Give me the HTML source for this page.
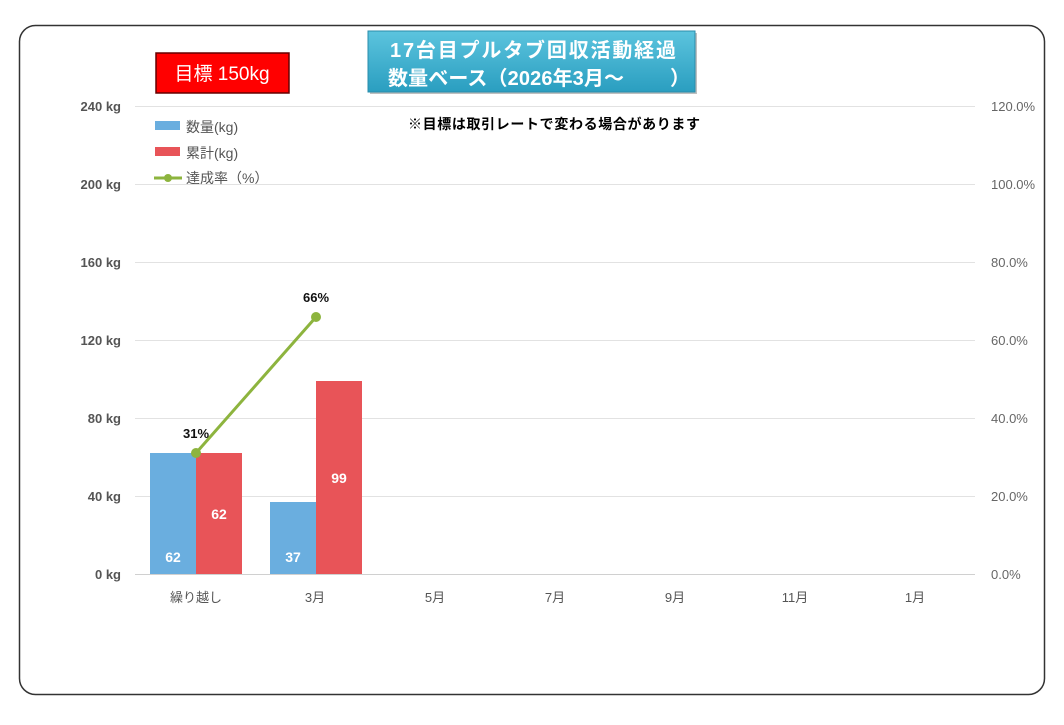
<!DOCTYPE html><html><head><meta charset="utf-8"><style>
body{margin:0;background:#fff;width:1064px;height:720px;overflow:hidden}
svg text{font-family:"Liberation Sans","Noto Sans CJK JP",sans-serif}
</style></head><body>
<svg width="1064" height="720" xmlns="http://www.w3.org/2000/svg">
<defs><linearGradient id="g" x1="0" y1="0" x2="0" y2="1"><stop offset="0" stop-color="#5cc4de"/><stop offset="1" stop-color="#2a9ec0"/></linearGradient></defs>
<rect x="19.5" y="25.5" width="1025" height="669" rx="16" fill="#fff" stroke="#333" stroke-width="1.5"/>
<g stroke="#e2e2e2" stroke-width="1">
<line x1="135" y1="106.5" x2="975" y2="106.5"/><line x1="135" y1="184.5" x2="975" y2="184.5"/><line x1="135" y1="262.5" x2="975" y2="262.5"/><line x1="135" y1="340.5" x2="975" y2="340.5"/><line x1="135" y1="418.5" x2="975" y2="418.5"/><line x1="135" y1="496.5" x2="975" y2="496.5"/><line x1="135" y1="574.5" x2="975" y2="574.5" stroke="#d0d0d0"/>
</g>
<g font-size="13" font-weight="bold" fill="#555" text-anchor="end">
<text x="121" y="111">240 kg</text><text x="121" y="189">200 kg</text><text x="121" y="267">160 kg</text><text x="121" y="345">120 kg</text><text x="121" y="423">80 kg</text><text x="121" y="501">40 kg</text><text x="121" y="579">0 kg</text>
</g>
<g font-size="13" fill="#666">
<text x="991" y="111">120.0%</text><text x="991" y="189">100.0%</text><text x="991" y="267">80.0%</text><text x="991" y="345">60.0%</text><text x="991" y="423">40.0%</text><text x="991" y="501">20.0%</text><text x="991" y="579">0.0%</text>
</g>
<g font-size="13" fill="#555" text-anchor="middle">
<text x="196" y="602">繰り越し</text><text x="315" y="602">3月</text><text x="435" y="602">5月</text><text x="555" y="602">7月</text><text x="675" y="602">9月</text><text x="795" y="602">11月</text><text x="915" y="602">1月</text>
</g>
<rect x="150" y="453" width="46" height="121" fill="#6aaedf"/>
<rect x="196" y="453" width="46" height="121" fill="#e85458"/>
<rect x="270" y="502" width="46" height="72" fill="#6aaedf"/>
<rect x="316" y="381" width="46" height="193" fill="#e85458"/>
<g font-size="14" font-weight="bold" fill="#fff" text-anchor="middle">
<text x="173" y="562">62</text><text x="219" y="519">62</text><text x="293" y="562">37</text><text x="339" y="483">99</text>
</g>
<line x1="196" y1="453" x2="316" y2="317" stroke="#8db43e" stroke-width="3"/>
<circle cx="196" cy="453" r="5" fill="#8db43e"/><circle cx="316" cy="317" r="5" fill="#8db43e"/>
<g font-size="13" font-weight="bold" fill="#111" text-anchor="middle"><text x="196" y="438">31%</text><text x="316" y="302">66%</text></g>
<rect x="156" y="53" width="133" height="40" fill="#f00" stroke="#600" stroke-width="1.5"/>
<text x="222" y="80" font-size="19" fill="#fff" text-anchor="middle">目標 150kg</text>
<rect x="370" y="33" width="327" height="61" fill="#000" opacity="0.25"/>
<rect x="368" y="31" width="327" height="61" fill="url(#g)" stroke="#2a8cab"/>
<text x="390" y="57" font-size="20" font-weight="bold" fill="#fff" textLength="286" lengthAdjust="spacing">17台目プルタブ回収活動経過</text>
<text x="388" y="85" font-size="20" font-weight="bold" fill="#fff" textLength="302" lengthAdjust="spacing">数量ベース（2026年3月～　　 ）</text>
<text x="408" y="129" font-size="14" font-weight="bold" fill="#000" textLength="292" lengthAdjust="spacing">※目標は取引レートで変わる場合があります</text>
<rect x="155" y="121" width="25" height="9" fill="#6aaedf"/><text x="186" y="132" font-size="14" fill="#555">数量(kg)</text>
<rect x="155" y="147" width="25" height="9" fill="#e85458"/><text x="186" y="158" font-size="14" fill="#555">累計(kg)</text>
<line x1="154" y1="178" x2="182" y2="178" stroke="#8db43e" stroke-width="3"/><circle cx="168" cy="178" r="4" fill="#8db43e"/>
<text x="186" y="183" font-size="14" fill="#555">達成率（%）</text>
</svg>
</body></html>
